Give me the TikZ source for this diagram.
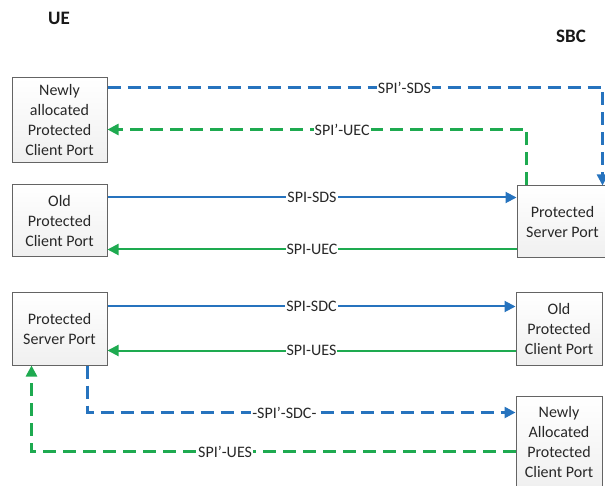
\documentclass[tikz,border=0pt]{standalone}
\usepackage{fontspec}
\setmainfont{Carlito}
\usetikzlibrary{arrows.meta}
\definecolor{lblue}{RGB}{38,115,190}
\definecolor{lgreen}{RGB}{30,170,80}
\definecolor{txt}{RGB}{40,40,40}
\definecolor{bord}{RGB}{100,100,100}
\begin{document}
\begin{tikzpicture}[x=1pt,y=-1pt,
  port/.style={draw=bord, line width=1pt, top color=white, bottom color=gray!12, text=txt, align=center,
    font=\fontsize{16}{20}\selectfont, inner sep=0pt},
  lbl/.style={fill=white, text=txt, inner sep=1pt, font=\fontsize{16}{20}\selectfont},
  hdr/.style={text=black!90, font=\bfseries\fontsize{19}{22}\selectfont},
  tip/.style={-{Triangle[length=11pt,width=11pt]}},
  bsolid/.style={draw=lblue, line width=2pt},
  gsolid/.style={draw=lgreen, line width=2pt},
  bdash/.style={draw=lblue, line width=2.5pt, dash pattern=on 13pt off 7pt},
  gdash/.style={draw=lgreen, line width=2.5pt, dash pattern=on 13pt off 7pt}]
\useasboundingbox (0,0) rectangle (605,486);

\node[hdr] (ue) at (59,18.5) {UE};
\node[hdr] (sbc) at (571,36.5) {SBC};

\node[port, minimum width=95pt, minimum height=85pt] (L1) at (59.5,120.5) {Newly\\allocated\\Protected\\Client Port};
\node[port, minimum width=95pt, minimum height=72pt] (L2) at (59.5,221) {Old\\Protected\\Client Port};
\node[port, minimum width=95pt, minimum height=72pt] (L3) at (59.5,329) {Protected\\Server Port};

\node[port, minimum width=91pt, minimum height=72pt] (R1) at (562.5,222) {Protected\\Server Port};
\node[port, minimum width=86pt, minimum height=72pt] (R2) at (559,329) {Old\\Protected\\Client Port};
\node[port, minimum width=86pt, minimum height=92pt] (R3) at (559,442) {Newly\\Allocated\\Protected\\Client Port};

% anchor points on the boxes
\coordinate (p1) at ([yshift=-10pt]L1.north east);
\coordinate (p2) at ([xshift=86pt]R1.north west);
\coordinate (p3) at ([xshift=10pt]R1.north west);
\coordinate (p4) at ([yshift=-52pt]L1.north east);
\coordinate (a1) at ([yshift=-13pt]L2.north east);
\coordinate (a2) at ([yshift=8pt]L2.south east);
\coordinate (a3) at ([yshift=-14pt]L3.north east);
\coordinate (a4) at ([yshift=15pt]L3.south east);
\coordinate (p5) at ([xshift=76pt]L3.south west);
\coordinate (p6) at ([yshift=-17pt]R3.north west);
\coordinate (p7) at ([yshift=-56pt]R3.north west);
\coordinate (p8) at ([xshift=20pt]L3.south west);

% SPI'-SDS
\draw[bdash, tip] (p1) -| (p2) node[lbl, pos=0.3] {SPI’-SDS};
% SPI'-UEC
\draw[gdash, tip] (p3) |- (p4) node[lbl, pos=0.72] {SPI’-UEC};
% SPI-SDS
\draw[bsolid, tip] (a1) -- (a1 -| R1.west) node[lbl, midway] {SPI-SDS};
% SPI-UEC
\draw[gsolid, tip] (a2 -| R1.west) -- (a2) node[lbl, midway] {SPI-UEC};
% SPI-SDC
\draw[bsolid, tip] (a3) -- (a3 -| R2.west) node[lbl, midway] {SPI-SDC};
% SPI-UES
\draw[gsolid, tip] (a4 -| R2.west) -- (a4) node[lbl, midway] {SPI-UES};
% SPI'-SDC
\draw[bdash, tip] (p5) |- (p6) node[lbl, pos=0.73] {-SPI’-SDC-};
% SPI'-UES
\draw[gdash, tip] (p7) -| (p8) node[lbl, pos=0.3] {SPI’-UES};
\end{tikzpicture}
\end{document}
